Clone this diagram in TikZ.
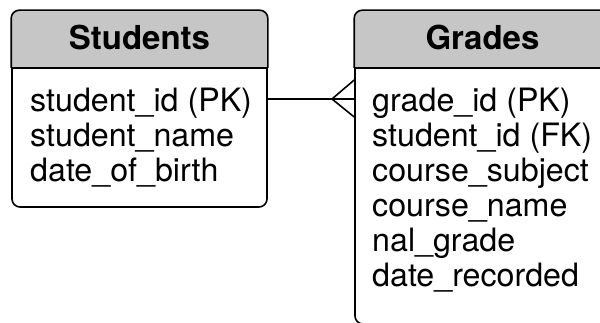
\documentclass[tikz,border=0pt]{standalone}
\usepackage{fontspec}
\setmainfont{TeX Gyre Heros}
\usetikzlibrary{positioning,calc}

\begin{document}
\begin{tikzpicture}[
    x=1pt, y=-1pt,
    entity/.style={rectangle, draw=black, line width=1.6pt, fill=white, rounded corners=8pt, inner sep=0pt},
    head/.style={draw=black, line width=1.6pt, fill=gray!45, rounded corners=8pt},
    title/.style={font=\fontsize{33}{36}\selectfont\bfseries, inner sep=0pt, anchor=base},
    attr/.style={font=\fontsize{32.2}{35}\selectfont, inner sep=0pt, anchor=base west},
    link/.style={draw=black, line width=1.6pt}
]
\useasboundingbox (0,0) rectangle (600,323);
\clip (0,0) rectangle (600,323);

% Tables
\node[entity, minimum width=255pt, minimum height=196pt] (students) at (139.5,109) {};
\node[entity, minimum width=255pt, minimum height=313pt] (grades) at (482.5,167.5) {};

% Headers
\path[head] (students.west |- 0,68) -- (students.north west) -- (students.north east) -- (students.east |- 0,68);
\draw[link] (students.west |- 0,68) -- (students.east |- 0,68);
\path[head] (grades.west |- 0,68) -- (grades.north west) -- (grades.north east) -- (grades.east |- 0,68);
\draw[link] (grades.west |- 0,68) -- (grades.east |- 0,68);

\node[title] (studentstitle) at (139.5,50) {Students};
\node[title] (gradestitle) at (482.5,50) {Grades};

% Attributes
\node[attr] (sid) at (30,112) {student\_id (PK)};
\node[attr] (sname) at (30,147) {student\_name};
\node[attr] (sbirth) at (30,182) {date\_of\_birth};

\node[attr] (gid) at (372,112) {grade\_id (PK)};
\node[attr] (gsid) at (372,147) {student\_id (FK)};
\node[attr] (gsubject) at (372,182) {course\_subject};
\node[attr] (gcourse) at (372,217) {course\_name};
\node[attr] (gfinal) at (372,252) {nal\_grade};
\node[attr] (gdate) at (372,287) {date\_recorded};

% Relationship (one to many)
\coordinate (fork) at (332,99);
\draw[link] (students.east |- fork) -- (grades.west |- fork);
\draw[link] (grades.west |- 0,80) -- (fork) -- (grades.west |- 0,117);

\end{tikzpicture}
\end{document}
